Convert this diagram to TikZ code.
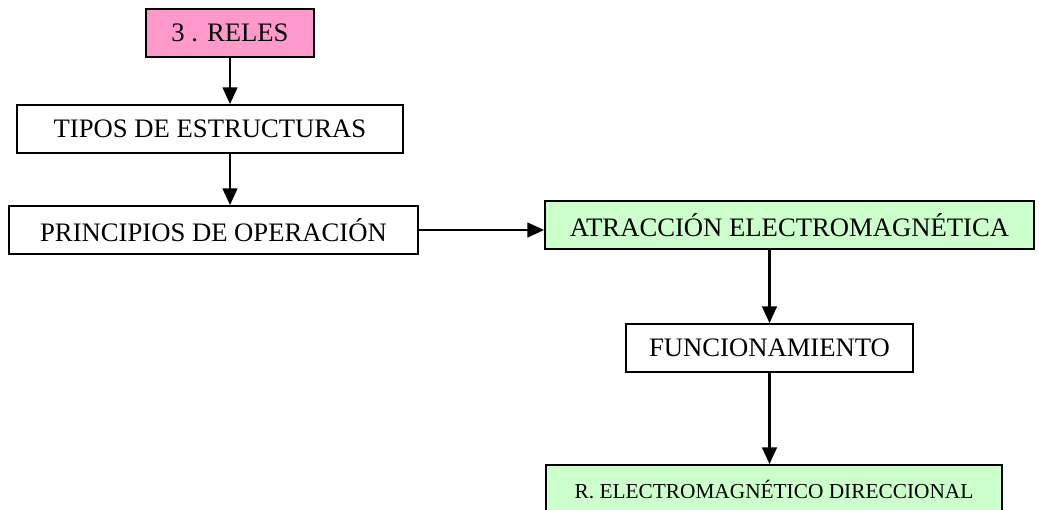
\documentclass[tikz,border=0pt]{standalone}
\usepackage{fontspec}
\setmainfont{Liberation Serif}
\usetikzlibrary{arrows.meta,positioning}
\definecolor{relpink}{RGB}{255,153,204}
\definecolor{relgreen}{RGB}{204,255,204}

\begin{document}
\begin{tikzpicture}[x=0.75pt,y=-0.75pt,box/.style={draw,line width=1.4pt,minimum height=36pt,inner sep=2pt,font=\fontsize{20}{24}\selectfont},flow/.style={-{Triangle[length=12.5pt,width=11pt]},line width=1.7pt}]
\useasboundingbox (0,0) rectangle (1039,510);
\node[box,fill=relpink,minimum width=126pt] (reles) at (230,33) {3 . RELES};
\node[box,minimum width=289.5pt] (tipos) at (210,129) {TIPOS DE ESTRUCTURAS};
\node[box,minimum width=306.75pt] (princ) at (213.5,230) {PRINCIPIOS DE OPERACIÓN};
\node[box,fill=relgreen,minimum width=366.75pt] (atrac) at (789.5,225) {ATRACCIÓN ELECTROMAGNÉTICA};
\node[box,minimum width=215.25pt] (func) at (769.5,348) {FUNCIONAMIENTO};
\node[box,fill=relgreen,minimum width=342pt,font=\fontsize{16}{19}\selectfont] (rdir) at (774,489) {R. ELECTROMAGNÉTICO DIRECCIONAL};
\draw[flow] (reles.south)--(reles.south |- tipos.north);
\draw[flow] (tipos.south -| reles)--(princ.north -| reles);
\draw[flow] (princ.east)--(princ.east -| atrac.west);
\draw[flow] (atrac.south -| func)--(func.north);
\draw[flow] (func.south)--(rdir.north -| func);
\end{tikzpicture}
\end{document}
